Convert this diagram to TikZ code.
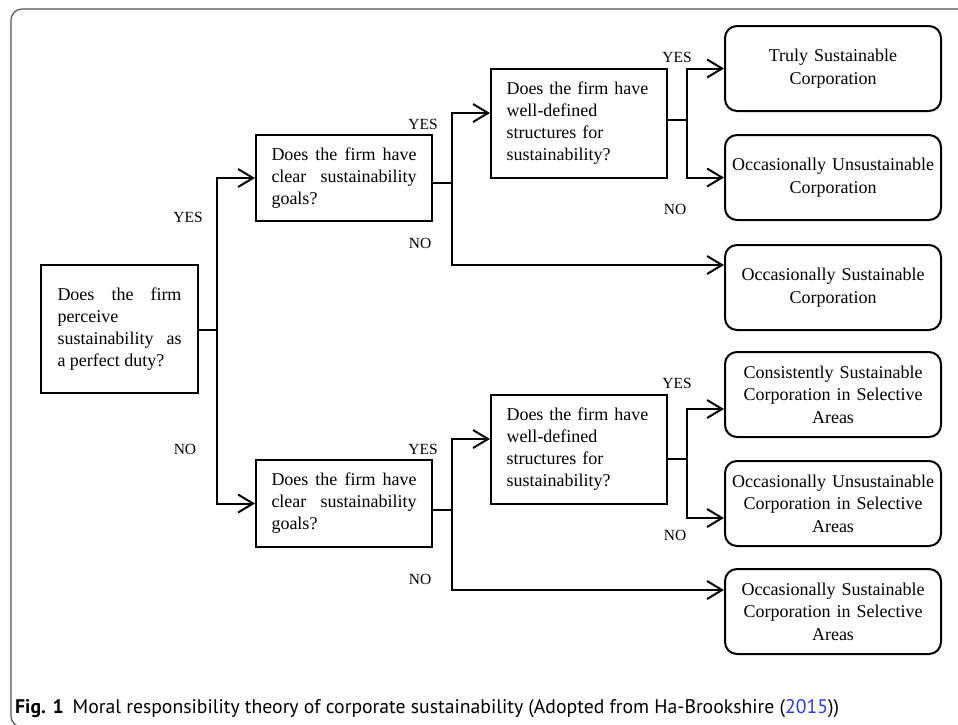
\documentclass[tikz,border=0pt]{standalone}
\usepackage{fontspec}
\setmainfont{Liberation Serif}
\setsansfont{PT Sans}
\usetikzlibrary{arrows.meta}
\begin{document}
\begin{tikzpicture}[
    x=1pt, y=-1pt,
    qbox/.style={
        rectangle,
        draw,
        line width=2pt,
        minimum width=176pt,
        text width=145pt,
        align=left,
        font=\fontsize{18}{22}\selectfont
    },
    endbox/.style={
        rectangle,
        rounded corners=12pt,
        draw,
        line width=2pt,
        minimum width=216pt,
        minimum height=85pt,
        text width=205pt,
        align=center,
        font=\fontsize{18}{22.5}\selectfont
    },
    lbl/.style={
        inner sep=0pt,
        font=\fontsize{15.5}{18}\selectfont
    },
    flow/.style={
        ->,
        line width=2pt,
        >={Straight Barb[length=15pt,width=18pt]}
    }
]

% colours
\definecolor{framegray}{RGB}{85,85,85}
\definecolor{citeblue}{RGB}{40,60,230}

\useasboundingbox (0,0) rectangle (958,724);

% frame
\draw[framegray, line width=1.2pt, rounded corners=11pt] (975,9) -- (11,9) -- (11,727) -- (975,727);

% questions
\node[qbox, align=justify, minimum width=157pt, minimum height=128pt, text width=124pt] (root) at (119.5,329)
    {Does the firm\linebreak perceive\\sustainability as\linebreak a perfect duty?};

\node[qbox, align=justify, minimum height=86pt] (q1) at (344,178)
    {Does the firm have\linebreak clear sustainability\linebreak goals?};
\node[qbox, minimum height=109pt] (q2) at (579,123.5)
    {Does the firm have\\well-defined\\structures for\\sustainability?};

\node[qbox, align=justify, minimum height=87pt] (q3) at (344,503.5)
    {Does the firm have\linebreak clear sustainability\linebreak goals?};
\node[qbox, minimum height=109pt] (q4) at (579,449.5)
    {Does the firm have\\well-defined\\structures for\\sustainability?};

% outcomes
\node[endbox] (o1) at (833,68.5) {Truly Sustainable\\Corporation};
\node[endbox] (o2) at (833,177.5) {Occasionally Unsustainable\\Corporation};
\node[endbox] (o3) at (833,287.5) {Occasionally Sustainable\\Corporation};
\node[endbox] (o4) at (833,394.5) {Consistently Sustainable\\Corporation in Selective\\Areas};
\node[endbox] (o5) at (833,503.5) {Occasionally Unsustainable\\Corporation in Selective\\Areas};
\node[endbox] (o6) at (833,611.5) {Occasionally Sustainable\\Corporation in Selective\\Areas};

% junctions
\coordinate (j0) at (217,330);
\coordinate (j1) at (452,183);
\coordinate (j2) at (687,120);
\coordinate (j3) at (452,510);
\coordinate (j4) at (687,459);

% edges
\draw[line width=2pt] (root.east |- j0) -- (j0);
\draw[flow] (j0) |- (q1.west);
\draw[flow] (j0) |- (q3.west);

\draw[line width=2pt] (q1.east |- j1) -- (j1);
\draw[flow] (j1) |- ([yshift=10.5pt]q2.west);
\draw[flow] (j1) |- ([yshift=22.5pt]o3.west);

\draw[line width=2pt] (q2.east |- j2) -- (j2);
\draw[flow] (j2) |- (o1.west);
\draw[flow] (j2) |- (o2.west);

\draw[line width=2pt] (q3.east |- j3) -- (j3);
\draw[flow] (j3) |- ([yshift=10.5pt]q4.west);
\draw[flow] (j3) |- ([yshift=21.5pt]o6.west);

\draw[line width=2pt] (q4.east |- j4) -- (j4);
\draw[flow] (j4) |- ([yshift=-14.5pt]o4.west);
\draw[flow] (j4) |- ([yshift=-14.5pt]o5.west);

% labels
\node[lbl] (yes0) at (188,217) {YES};
\node[lbl] (no0) at (185,449) {NO};
\node[lbl] (yes1) at (423,124) {YES};
\node[lbl] (no1) at (420,243) {NO};
\node[lbl] (yes2) at (677,57) {YES};
\node[lbl] (no2) at (675,209) {NO};
\node[lbl] (yes3) at (423,449) {YES};
\node[lbl] (no3) at (420,579) {NO};
\node[lbl] (yes4) at (677,383) {YES};
\node[lbl] (no4) at (675,535) {NO};

% caption
\node[anchor=base west, inner sep=0pt, font=\sffamily\fontsize{19.7}{23}\selectfont] (cap) at (15,713)
    {\textbf{Fig. 1}\hspace{9pt}Moral responsibility theory of corporate sustainability (Adopted from Ha-Brookshire (\textcolor{citeblue}{2015}))};

\end{tikzpicture}
\end{document}
